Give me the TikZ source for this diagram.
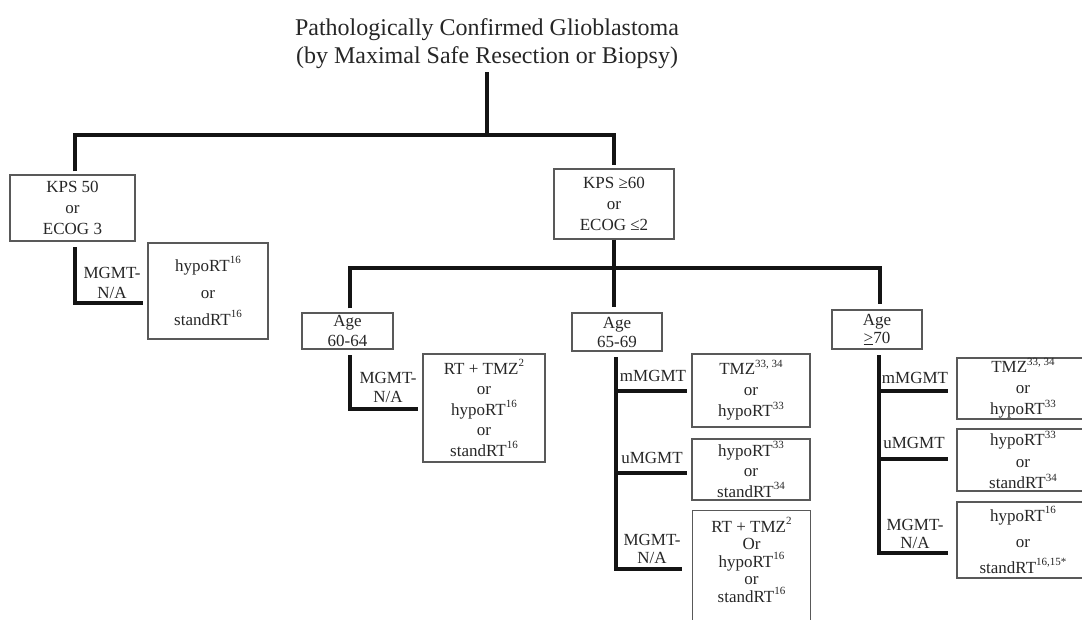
\documentclass[tikz,border=0pt]{standalone}
\usepackage{fontspec}
\setmainfont{Liberation Serif}
\newcommand\fz[1]{\fontsize{17}{#1}\selectfont}
\newcommand\sps[1]{\raisebox{0.42em}{\fontsize{11}{11}\selectfont #1}}
\begin{document}
\begin{tikzpicture}[x=1pt,y=-1pt,
  bord/.style={draw=black!65, line width=1.1pt},
  box/.style={bord, align=center, inner sep=0pt, text=black!85},
  plain/.style={align=center, inner sep=0pt, text=black!85},
  conn/.style={line width=3.6pt, draw=black!92, line join=miter},
  lab/.style={align=center, inner sep=0pt, text=black!85}]
\path[use as bounding box] (0,0) rectangle (1082,619);
\clip (0,0) rectangle (1082,619);

% title
\node[plain, font=\fontsize{24}{28}\selectfont] (title) at (487,44)
  {Pathologically Confirmed Glioblastoma\\(by Maximal Safe Resection or Biopsy)};

% performance status
\node[box, font=\fz{21}, minimum width=125pt, minimum height=66pt] (kps50) at (72.5,208) {KPS 50\\or\\ECOG 3};
\node[box, font=\fz{21}, minimum width=120pt, minimum height=70pt] (kps60) at (614,204) {KPS ≥60\\or\\ECOG ≤2};

% left branch
\node[box, font=\fz{27}, minimum width=120pt, minimum height=96pt] (hypo1) at (208,291) {hypoRT\sps{16}\\or\\standRT\sps{16}};
\node[lab, font=\fz{20}] (l1) at (112,283) {MGMT-\\N/A};

% age boxes
\node[box, font=\fz{20}, minimum width=91pt, minimum height=36pt] (age1) at (347.5,331) {Age\\60-64};
\node[box, font=\fz{19}, minimum width=90pt, minimum height=38pt] (age2) at (617,332) {Age\\65-69};
\node[box, font=\fz{18}, minimum width=90pt, minimum height=39pt] (age3) at (877,329.5) {Age\\\underline{>}70};

% age 60-64 branch
\node[box, font=\fz{20.5}, minimum width=122pt, minimum height=108pt] (rx1) at (484,408)
  {RT + TMZ\sps{2}\\or\\hypoRT\sps{16}\\or\\standRT\sps{16}};
\node[lab, font=\fz{19}] (l2) at (388,387.5) {MGMT-\\N/A};

% age 65-69 branch
\node[box, font=\fz{21}, minimum width=118pt, minimum height=73pt] (b2a) at (751,390.5) {TMZ\sps{33, 34}\\or\\hypoRT\sps{33}};
\node[box, font=\fz{20.5}, minimum width=118pt, minimum height=61pt] (b2b) at (751,469.5) {hypoRT\sps{33}\\or\\standRT\sps{34}};
\node[plain, font=\fz{17.5}, minimum width=117pt, minimum height=98pt] (b2c) at (751.5,560)
  {RT + TMZ\sps{2}\\Or\\hypoRT\sps{16}\\or\\standRT\sps{16}};
\draw[bord] ([yshift=-30pt]b2c.south west) -- (b2c.north west) -- (b2c.north east) -- ([yshift=-30pt]b2c.south east);
\node[lab, font=\fz{17}] (l3) at (653,376) {mMGMT};
\node[lab, font=\fz{17}] (l4) at (652,458) {uMGMT};
\node[lab, font=\fz{18}] (l5) at (652,549) {MGMT-\\N/A};

% age >=70 branch
\node[box, font=\fz{21}, minimum width=132pt, minimum height=61pt] (b3a) at (1023,388.5) {TMZ\sps{33, 34}\\or\\hypoRT\sps{33}};
\node[box, font=\fz{21.5}, minimum width=132pt, minimum height=62pt] (b3b) at (1023,460) {hypoRT\sps{33}\\or\\standRT\sps{34}};
\node[box, font=\fz{26}, minimum width=132pt, minimum height=76pt] (b3c) at (1023,540) {hypoRT\sps{16}\\or\\standRT\sps{16,15*}};
\node[lab, font=\fz{17}] (l6) at (915,378) {mMGMT};
\node[lab, font=\fz{17}] (l7) at (914,443) {uMGMT};
\node[lab, font=\fz{18}] (l8) at (915,534) {MGMT-\\N/A};

% junction coordinates
\coordinate (t0) at (487,72);
\coordinate (j0) at (487,135);
\coordinate (j1) at (614,268);
\coordinate (jl) at (350,268);
\coordinate (jr) at (880,268);
\coordinate (k1) at (75,247);
\coordinate (k1e) at (143,303);
\coordinate (a1) at (350,355);
\coordinate (a1e) at (418,409);
\coordinate (a2) at (616,357);
\coordinate (a2m) at (687,391);
\coordinate (a2u) at (687,473);
\coordinate (a2e) at (682,569);
\coordinate (a3) at (879,355);
\coordinate (a3m) at (948,391);
\coordinate (a3u) at (948,459);
\coordinate (a3e) at (948,553);

% connectors
\draw[conn] (t0) -- (j0);
\draw[conn] ([yshift=3pt]kps50.north -| k1) -- (k1 |- j0) -- (kps60.north |- j0) -- ([yshift=3pt]kps60.north);
\draw[conn] (kps60.south) -- (j1);
\draw[conn] ([yshift=4pt]age1.north -| jl) -- (jl) -- (jr) -- ([yshift=5pt]age3.north -| jr);
\draw[conn] (j1) -- ([yshift=5pt]age2.north -| j1);
\draw[conn] (k1) |- (k1e);
\draw[conn] (a1) |- (a1e);
\draw[conn] (a2) |- (a2e);
\draw[conn] (a2 |- a2m) -- (a2m);
\draw[conn] (a2 |- a2u) -- (a2u);
\draw[conn] (a3) |- (a3e);
\draw[conn] (a3 |- a3m) -- (a3m);
\draw[conn] (a3 |- a3u) -- (a3u);
\end{tikzpicture}
\end{document}
